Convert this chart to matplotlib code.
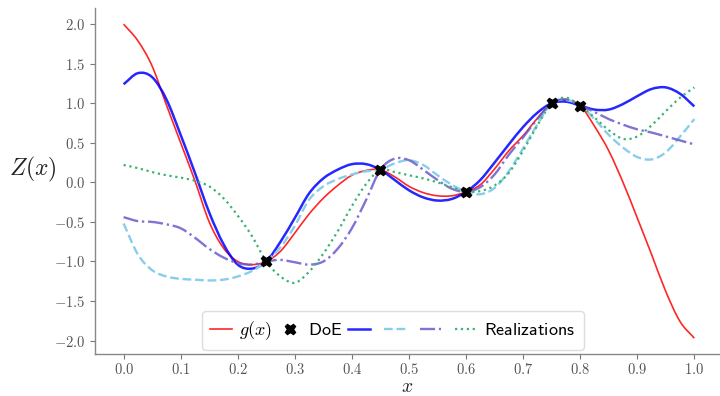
import matplotlib
matplotlib.use("Agg")
import matplotlib.pyplot as plt
from matplotlib.lines import Line2D
from matplotlib.path import Path
from matplotlib.patches import PathPatch

plt.rcParams["mathtext.fontset"] = "cm"

# sample locations shared by every curve
x = [i * 0.025 for i in range(41)]

# true function
g_true = [2.00, 1.79, 1.47, 0.98, 0.50, 0.02, -0.50, -0.83, -1.00, -1.04,
          -1.00, -0.87, -0.64, -0.40, -0.20, -0.04, 0.09, 0.15, 0.16, 0.07,
          -0.05, -0.13, -0.17, -0.17, -0.12, -0.03, 0.17, 0.40, 0.59, 0.81,
          1.00, 1.04, 0.97, 0.71, 0.40, 0.00, -0.45, -0.91, -1.38, -1.76,
          -1.97]

# kriging mean
gp_mean = [1.24, 1.38, 1.33, 1.05, 0.60, 0.12, -0.38, -0.78, -1.04, -1.09,
           -1.00, -0.75, -0.45, -0.14, 0.05, 0.16, 0.23, 0.23, 0.16, 0.03,
           -0.10, -0.19, -0.23, -0.21, -0.12, 0.03, 0.25, 0.48, 0.70, 0.88,
           1.00, 1.02, 0.97, 0.92, 0.92, 0.99, 1.09, 1.18, 1.20, 1.12,
           0.96]

# conditional realizations
real_1 = [-0.52, -0.91, -1.11, -1.19, -1.22, -1.23, -1.24, -1.23, -1.19, -1.12,
          -1.00, -0.82, -0.55, -0.22, -0.05, 0.04, 0.10, 0.14, 0.16, 0.24,
          0.28, 0.22, 0.09, -0.03, -0.12, -0.15, -0.07, 0.14, 0.43, 0.73,
          1.00, 1.04, 0.97, 0.80, 0.60, 0.44, 0.32, 0.29, 0.38, 0.58,
          0.80]

real_2 = [-0.44, -0.49, -0.50, -0.53, -0.58, -0.70, -0.84, -0.95, -1.02, -1.04,
          -1.00, -0.98, -1.01, -1.04, -1.00, -0.84, -0.58, -0.22, 0.16, 0.30,
          0.28, 0.16, 0.03, -0.08, -0.12, -0.06, 0.10, 0.35, 0.57, 0.80,
          1.00, 1.05, 0.97, 0.89, 0.80, 0.73, 0.67, 0.63, 0.58, 0.53,
          0.48]

real_3 = [0.22, 0.18, 0.13, 0.09, 0.06, 0.02, -0.05, -0.20, -0.42, -0.68,
          -1.00, -1.19, -1.27, -1.13, -0.90, -0.62, -0.30, -0.02, 0.16, 0.13,
          0.09, 0.05, 0.00, -0.06, -0.12, -0.11, -0.04, 0.12, 0.40, 0.72,
          1.00, 1.07, 0.97, 0.82, 0.66, 0.55, 0.58, 0.72, 0.90, 1.07,
          1.20]

# design of experiments
doe_x = [0.25, 0.45, 0.60, 0.75, 0.80]
doe_y = [-1.00, 0.16, -0.12, 1.00, 0.97]

xticks = [0.0, 0.1, 0.2, 0.3, 0.4, 0.5, 0.6, 0.7, 0.8, 0.9, 1.0]
yticks = [-2.0, -1.5, -1.0, -0.5, 0.0, 0.5, 1.0, 1.5, 2.0]


def smooth_path(xs, ys):
    """Path through every (x, y) sample, joined by Catmull-Rom cubic segments."""
    pts = list(zip(xs, ys))
    n = len(pts)
    ext = [(2 * pts[0][0] - pts[1][0], 2 * pts[0][1] - pts[1][1])] + pts + \
          [(2 * pts[-1][0] - pts[-2][0], 2 * pts[-1][1] - pts[-2][1])]
    verts = [pts[0]]
    codes = [Path.MOVETO]
    for i in range(n - 1):
        p0, p1, p2, p3 = ext[i], ext[i + 1], ext[i + 2], ext[i + 3]
        c1 = (p1[0] + (p2[0] - p0[0]) / 6, p1[1] + (p2[1] - p0[1]) / 6)
        c2 = (p2[0] - (p3[0] - p1[0]) / 6, p2[1] - (p3[1] - p1[1]) / 6)
        verts += [c1, c2, p2]
        codes += [Path.CURVE4] * 3
    return Path(verts, codes)


def draw_curve(ax, xs, ys, **style):
    patch = PathPatch(smooth_path(xs, ys), fill=False, zorder=2,
                      capstyle="butt", joinstyle="round", **style)
    ax.add_patch(patch)


fig = plt.figure(figsize=(7.2, 3.96), dpi=100)
ax = fig.add_axes([0.132, 0.106, 0.872, 0.873])

styles = {
    "true": dict(edgecolor="red", linewidth=1.2, alpha=0.85, linestyle="-"),
    "mean": dict(edgecolor="blue", linewidth=1.8, alpha=0.85, linestyle="-"),
    "r1": dict(edgecolor="skyblue", linewidth=1.7, linestyle="--"),
    "r2": dict(edgecolor="slateblue", linewidth=1.7, alpha=0.85, linestyle="-."),
    "r3": dict(edgecolor="mediumseagreen", linewidth=1.6, linestyle=":"),
}

draw_curve(ax, x, g_true, **styles["true"])
draw_curve(ax, x, gp_mean, **styles["mean"])
draw_curve(ax, x, real_1, **styles["r1"])
draw_curve(ax, x, real_2, **styles["r2"])
draw_curve(ax, x, real_3, **styles["r3"])
h_doe, = ax.plot(doe_x, doe_y, "X", color="black", ms=7.5, ls="none", zorder=5)


def proxy(style):
    return Line2D([], [], color=style["edgecolor"], lw=style["linewidth"],
                  ls=style["linestyle"], alpha=style.get("alpha", 1.0))


ax.set_xlim(-0.05, 1.05)
ax.set_ylim(-2.17, 2.2)

ax.set_xticks(xticks)
ax.set_xticklabels([f"${v:.1f}$" for v in xticks])
ax.set_yticks(yticks)
ax.set_yticklabels([f"${v:.1f}$" for v in yticks])
ax.tick_params(colors="#777777", labelcolor="#555555", labelsize=10.5,
               length=3.5, width=0.8)
ax.tick_params(axis="x", pad=2.0)

for side in ("top", "right"):
    ax.spines[side].set_visible(False)
for side in ("left", "bottom"):
    ax.spines[side].set_color("#888888")
    ax.spines[side].set_linewidth(1.0)

ax.set_ylabel("$Z(x)$", fontsize=17, rotation=0, color="#222222",
              ha="center", va="center")
ax.yaxis.set_label_coords(-0.0995, 0.535)
ax.set_xlabel("$x$", fontsize=14, color="#222222", va="center")
ax.xaxis.set_label_coords(0.4976, -0.094)

handles = [proxy(styles["true"]), h_doe, proxy(styles["mean"]),
           proxy(styles["r1"]), proxy(styles["r2"]), proxy(styles["r3"])]
labels = ["$g(x)$", r"$\mathsf{DoE}$", "", "", "", r"$\mathsf{Realizations}$"]
leg = ax.legend(handles, labels, ncol=6, loc="lower left",
                bbox_to_anchor=(202 / 720, 46 / 396),
                bbox_transform=fig.transFigure, borderaxespad=0,
                fontsize=13, handlelength=1.2, handletextpad=0.42,
                columnspacing=0.35, borderpad=0.45, frameon=True,
                fancybox=True, framealpha=1.0, edgecolor="#dddddd")

fig.savefig("out.png", dpi=100)
